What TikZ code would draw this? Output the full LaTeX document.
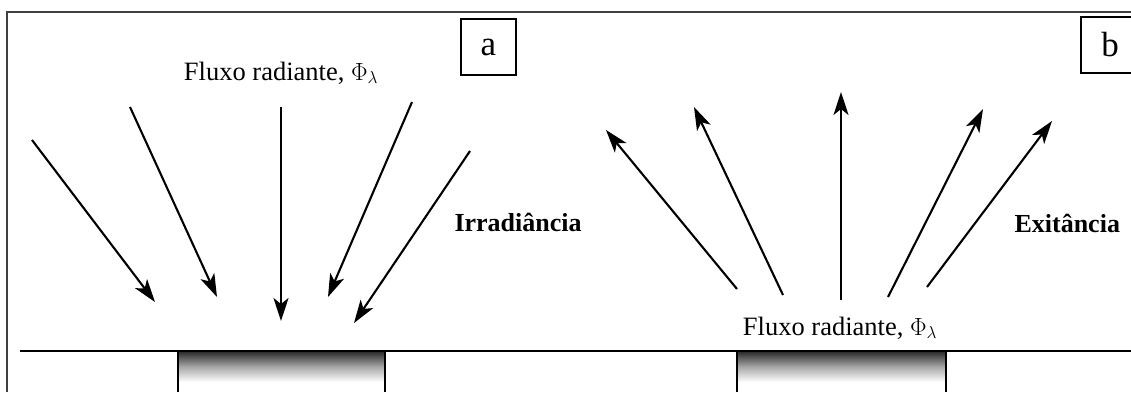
\documentclass[tikz,border=0pt]{standalone}
\usepackage{fontspec}
\setmainfont{Liberation Serif}
\usepackage{tikz}
\usetikzlibrary{arrows.meta}

\begin{document}
\begin{tikzpicture}[x=1pt, y=-1pt,
    ray/.style={line width=2.1pt, -{Stealth[length=23pt, width=15pt, inset=6pt]}},
    lbox/.style={draw, line width=1.5pt, inner sep=0pt, font=\fontsize{35}{40}\selectfont},
    flux/.style={anchor=base, font=\fontsize{26.5}{30}\selectfont},
    quant/.style={anchor=base west, font=\fontsize{26}{30}\selectfont\bfseries}]
\useasboundingbox (0,0) rectangle (1131,392);
% frame
\draw[line width=1.2pt, black!75] (7,392) -- (7,12) -- (1135,12);
% ground and the two patches
\draw[line width=2.6pt] (20,351) -- (1135,351);
\foreach \p/\xl/\xr in {a/178/385, b/737/946} {
    \shade[top color=black!85, bottom color=white, middle color=black!35] (\xl,351) rectangle (\xr,382);
    \coordinate (\p tl) at (\xl,351);
    \coordinate (\p tr) at (\xr,351);
    \coordinate (\p bl) at (\xl,392);
    \coordinate (\p br) at (\xr,392);
    \draw[line width=2pt] (\p bl) -- (\p tl) -- (\p tr) -- (\p br);
}
% (a) incident rays
\foreach \i/\xs/\ys/\xe/\ye in {1/32/140/155/302, 2/130/107/217/297, 3/281/107/281/321, 4/412/102/328/297, 5/470/151/354/323} {
    \coordinate (ain\i) at (\xs,\ys);
    \coordinate (aout\i) at (\xe,\ye);
    \draw[ray] (ain\i) -- (aout\i);
}
% (b) emitted rays
\foreach \i/\xs/\ys/\xe/\ye in {1/737/289/606/130, 2/783/295/694/107, 3/841/300/841/92, 4/888/297/983/109, 5/927/287/1052/121} {
    \coordinate (bin\i) at (\xs,\ys);
    \coordinate (bout\i) at (\xe,\ye);
    \draw[ray] (bin\i) -- (bout\i);
}
% labels
\node[flux] (fluxa) at (281,80) {Fluxo radiante, $\Phi_{\lambda}$};
\node[flux] (fluxb) at (840,335) {Fluxo radiante, $\Phi_{\lambda}$};
\node[quant] (irr) at (451,231) {Irradiância};
\node[quant] (exi) at (1011,232) {Exitância};
\node[lbox, minimum width=55pt, minimum height=56pt] (boxa) at (488.5,47) {a};
\node[lbox, minimum width=58pt, minimum height=56pt] (boxb) at (1110,45) {b};
\end{tikzpicture}
\end{document}
